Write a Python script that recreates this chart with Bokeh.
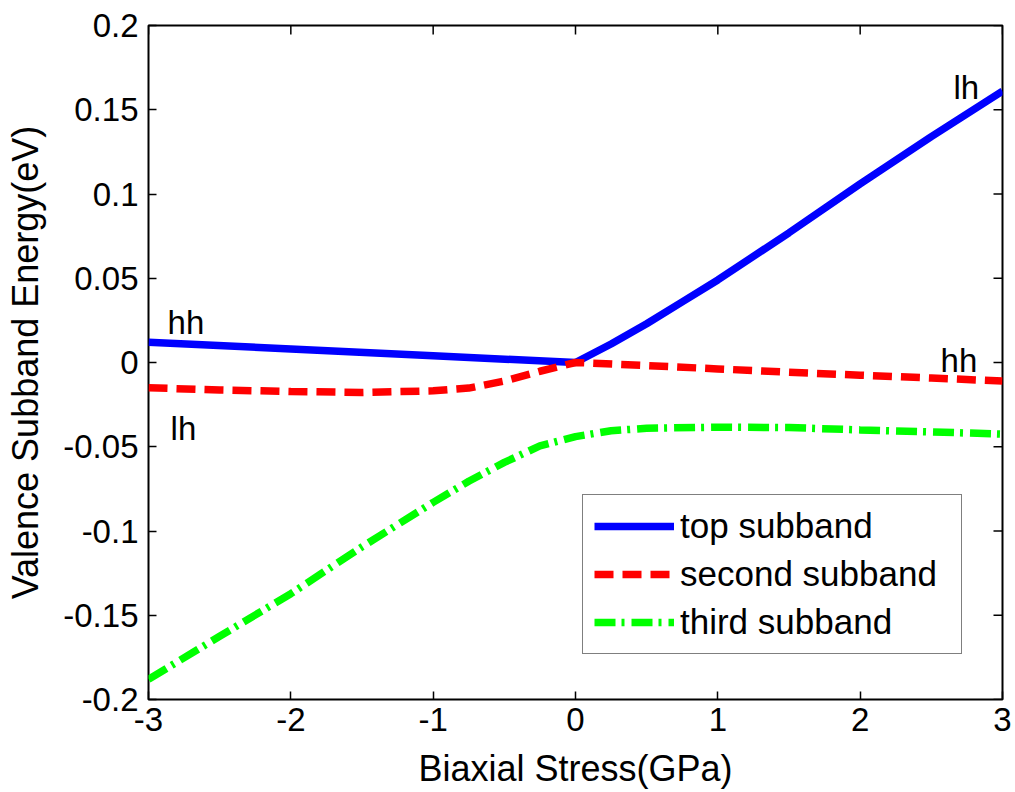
import math
from bokeh.plotting import figure
from bokeh.models import Range1d, FixedTicker, Legend, LegendItem
from bokeh.core.properties import value
from bokeh.embed import file_html
from bokeh.resources import INLINE

# ---- data ----
top_x = [-3.0, -2.0, -1.0, 0.0, 0.25, 0.5, 0.75, 1.0, 1.5, 2.0, 2.5, 3.0]
top_y = [0.012, 0.008, 0.004, 0.0, 0.011, 0.023, 0.036, 0.049, 0.077, 0.106, 0.134, 0.161]

second_x = [-3.0, -2.5, -2.0, -1.5, -1.0, -0.75, -0.5, -0.25, 0.0, 0.5, 1.0, 1.5, 2.0, 2.5, 3.0]
second_y = [-0.015, -0.0163, -0.0172, -0.0178, -0.0168, -0.0152, -0.011, -0.0052, 0.0,
            -0.0018, -0.0038, -0.0058, -0.0075, -0.0092, -0.011]

third_x = [-3.0, -2.5, -2.0, -1.5, -1.0, -0.75, -0.5, -0.25, 0.0, 0.25, 0.5, 1.0, 1.5, 2.0, 2.5, 3.0]
third_y = [-0.188, -0.1625, -0.1372, -0.1094, -0.083, -0.0705, -0.0593, -0.0495, -0.044,
           -0.0405, -0.0390, -0.0384, -0.0386, -0.0400, -0.0412, -0.0425]

series_names = ["top subband", "second subband", "third subband"]

x_ticks = [-3, -2, -1, 0, 1, 2, 3]
x_tick_labels = ["-3", "-2", "-1", "0", "1", "2", "3"]
y_ticks = [-0.2, -0.15, -0.1, -0.05, 0.0, 0.05, 0.1, 0.15, 0.2]
y_tick_labels = ["-0.2", "-0.15", "-0.1", "-0.05", "0", "0.05", "0.1", "0.15", "0.2"]

band_labels = ["hh", "lh", "hh", "lh"]

x_title = "Biaxial Stress(GPa)"
y_title = "Valence Subband Energy(eV)"

FONT = "Liberation Sans"

p = figure(width=1015, height=792, output_backend="svg", toolbar_location=None,
           x_range=Range1d(-3, 3), y_range=Range1d(-0.2, 0.2),
           min_border_left=148, min_border_right=13, min_border_top=25, min_border_bottom=93,
           background_fill_color="white", border_fill_color="white")
p.grid.visible = False
p.outline_line_color = "black"
p.outline_line_width = 2
p.outline_line_alpha = 1

def style_axis(ax, ticks, labels):
    ax.ticker = FixedTicker(ticks=ticks)
    ax.major_label_overrides = {t: l for t, l in zip(ticks, labels)}
    ax.major_tick_in = 8
    ax.major_tick_out = 0
    ax.major_tick_line_width = 1.5
    ax.major_tick_line_color = "black"
    ax.minor_tick_line_color = None
    ax.axis_line_color = None
    ax.major_label_text_font = FONT
    ax.major_label_text_color = "black"
    ax.major_label_text_font_size = "33px"

xax = p.xaxis[0]
yax = p.yaxis[0]
style_axis(xax, x_ticks, x_tick_labels)
style_axis(yax, y_ticks, y_tick_labels)
xax.major_label_standoff = 8
yax.major_label_standoff = 10

xax.axis_label = x_title
yax.axis_label = y_title
for ax in (xax, yax):
    ax.axis_label_text_font = FONT
    ax.axis_label_text_font_size = "36px"
    ax.axis_label_text_font_style = "normal"
    ax.axis_label_text_color = "black"
xax.axis_label_standoff = 14
yax.axis_label_standoff = 14

# inward ticks on the top and right edges of the box
p.ray(x=x_ticks, y=[p.y_range.end] * len(x_ticks), length=9, length_units="screen",
      angle=-math.pi / 2, line_color="black", line_width=1.5)
p.ray(x=[p.x_range.end] * len(y_ticks), y=y_ticks, length=9, length_units="screen",
      angle=math.pi, line_color="black", line_width=1.5)

r1 = p.line(top_x, top_y, line_color="#0000ff", line_width=7.5)
r2 = p.line(second_x, second_y, line_color="#ff0000", line_width=7.5, line_dash="19 9")
r3 = p.line(third_x, third_y, line_color="#00ff00", line_width=7.5, line_dash="21 6 3 7")

p.text(x=[-2.866, -2.845, 2.565, 2.656], y=[0.0237, -0.0392, 0.0012, 0.1632], text=band_labels,
       text_font=value(FONT), text_font_size="33px", text_color="black",
       text_align="left", text_baseline="alphabetic")

legend = Legend(items=[LegendItem(label=n, renderers=[r]) for n, r in zip(series_names, [r1, r2, r3])],
                location=(434, 45))
legend.glyph_width = 80
legend.glyph_height = 38
legend.label_height = 38
legend.label_width = 270
legend.spacing = 8
legend.padding = 11
legend.margin = 0
legend.label_standoff = 6
legend.label_text_font = FONT
legend.label_text_font_size = "35px"
legend.label_text_color = "black"
legend.border_line_color = "black"
legend.border_line_width = 1.5
legend.background_fill_color = "white"
legend.background_fill_alpha = 1
p.add_layout(legend, "center")

open("out.html", "w").write(file_html(p, INLINE))
